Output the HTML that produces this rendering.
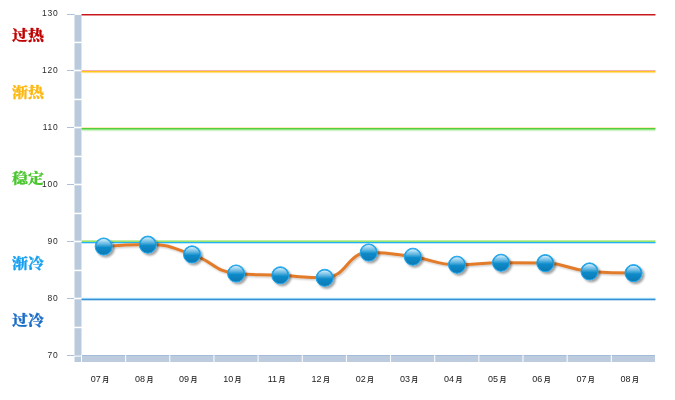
<!DOCTYPE html>
<html lang="zh-CN"><head><meta charset="utf-8"><title>chart</title>
<style>
html,body{margin:0;padding:0;background:#fff;}
body{width:675px;height:400px;overflow:hidden;position:relative;font-family:"Liberation Sans","Noto Sans CJK SC",sans-serif;}
svg{position:absolute;left:0;top:0;display:block;}
.yl{position:absolute;left:30px;width:28.6px;text-align:right;font-size:8.5px;line-height:10px;color:#2a2a2a;letter-spacing:0.8px;}
.xl{position:absolute;top:374px;width:44px;text-align:center;font-size:9px;line-height:10px;color:#222;white-space:nowrap;}
.xl span{font-size:7px;margin-left:1.4px;font-weight:500;color:#111;position:relative;top:0.3px;}
.zone{position:absolute;left:12.4px;font-family:"Liberation Serif","Noto Serif CJK SC",serif;font-weight:900;font-size:15px;line-height:16px;white-space:nowrap;transform:scale(1.06,0.9);transform-origin:0 50%;-webkit-text-stroke:0.25px currentColor;}
</style></head><body>
<svg width="675" height="400" viewBox="0 0 675 400">
<defs>
<linearGradient id="ball" x1="0" y1="0" x2="0" y2="1">
<stop offset="0" stop-color="#1b9fe4"/>
<stop offset="0.5" stop-color="#0f8dcc"/>
<stop offset="1" stop-color="#0778b2"/>
</linearGradient>
<linearGradient id="gloss" x1="0" y1="0" x2="0" y2="1">
<stop offset="0" stop-color="#fff" stop-opacity="0.85"/>
<stop offset="0.14" stop-color="#fff" stop-opacity="0.6"/>
<stop offset="0.34" stop-color="#fff" stop-opacity="0.32"/>
<stop offset="0.56" stop-color="#fff" stop-opacity="0"/>
<stop offset="1" stop-color="#fff" stop-opacity="0"/>
</linearGradient>
<filter id="sh2" x="-10%" y="-200%" width="120%" height="500%">
<feGaussianBlur in="SourceAlpha" stdDeviation="0.8"/>
<feOffset dx="1" dy="1.2"/>
<feComponentTransfer><feFuncA type="linear" slope="0.25"/></feComponentTransfer>
<feMerge><feMergeNode/><feMergeNode in="SourceGraphic"/></feMerge>
</filter>
<filter id="sh" x="-30%" y="-30%" width="170%" height="170%">
<feGaussianBlur in="SourceAlpha" stdDeviation="1"/>
<feOffset dx="1.5" dy="1.5"/>
<feComponentTransfer><feFuncA type="linear" slope="0.38"/></feComponentTransfer>
<feMerge><feMergeNode/><feMergeNode in="SourceGraphic"/></feMerge>
</filter>
</defs>
<!-- axes -->
<rect x="74.5" y="15" width="7" height="347" fill="#bacadd"/>
<rect x="81" y="355" width="574" height="1" fill="#a4bcd9"/>
<rect x="81" y="356" width="574" height="6" fill="#bccbdd"/>

<rect x="67" y="14" width="7.5" height="1" fill="#adc0d9"/>
<rect x="67" y="70" width="7.5" height="1" fill="#adc0d9"/>
<rect x="74" y="69.7" width="8" height="1.6" fill="#fff"/>
<rect x="67" y="127" width="7.5" height="1" fill="#adc0d9"/>
<rect x="74" y="126.7" width="8" height="1.6" fill="#fff"/>
<rect x="67" y="184" width="7.5" height="1" fill="#adc0d9"/>
<rect x="74" y="183.7" width="8" height="1.6" fill="#fff"/>
<rect x="67" y="241" width="7.5" height="1" fill="#adc0d9"/>
<rect x="74" y="240.7" width="8" height="1.6" fill="#fff"/>
<rect x="67" y="298" width="7.5" height="1" fill="#adc0d9"/>
<rect x="74" y="297.7" width="8" height="1.6" fill="#fff"/>
<rect x="67" y="355" width="7.5" height="1" fill="#adc0d9"/>
<rect x="74" y="355.6" width="8" height="1.0" fill="#fff"/>
<rect x="74" y="41.7" width="8" height="1.5" fill="#fff"/>
<rect x="74" y="98.7" width="8" height="1.5" fill="#fff"/>
<rect x="74" y="155.7" width="8" height="1.5" fill="#fff"/>
<rect x="74" y="212.7" width="8" height="1.5" fill="#fff"/>
<rect x="74" y="269.7" width="8" height="1.5" fill="#fff"/>
<rect x="74" y="326.7" width="8" height="1.5" fill="#fff"/>
<rect x="81.00" y="355" width="1" height="8" fill="#fff"/>
<rect x="125.15" y="355" width="1" height="8" fill="#fff"/>
<rect x="169.30" y="355" width="1" height="8" fill="#fff"/>
<rect x="213.45" y="355" width="1" height="8" fill="#fff"/>
<rect x="257.60" y="355" width="1" height="8" fill="#fff"/>
<rect x="301.75" y="355" width="1" height="8" fill="#fff"/>
<rect x="345.90" y="355" width="1" height="8" fill="#fff"/>
<rect x="390.05" y="355" width="1" height="8" fill="#fff"/>
<rect x="434.20" y="355" width="1" height="8" fill="#fff"/>
<rect x="478.35" y="355" width="1" height="8" fill="#fff"/>
<rect x="522.50" y="355" width="1" height="8" fill="#fff"/>
<rect x="566.65" y="355" width="1" height="8" fill="#fff"/>
<rect x="610.80" y="355" width="1" height="8" fill="#fff"/>
<rect x="81.5" y="14" width="574" height="1" fill="#c8181c"/>
<rect x="81.5" y="15" width="574" height="1" fill="#e68d90"/>
<rect x="81.5" y="70" width="574" height="1" fill="#f1b0b8"/>
<rect x="81.5" y="71" width="574" height="1" fill="#ffc61a"/>
<rect x="81.5" y="72" width="574" height="1" fill="#ffe083"/>
<rect x="81.5" y="73" width="574" height="1" fill="#fffaf0"/>
<rect x="81.5" y="127" width="574" height="1" fill="#ffe9b8"/>
<rect x="81.5" y="128" width="574" height="1" fill="#50d03e"/>
<rect x="81.5" y="129" width="574" height="1" fill="#8ee27e"/>
<rect x="81.5" y="130" width="574" height="1" fill="#d2f4ca"/>
<rect x="81.5" y="131" width="574" height="1" fill="#f4fcf2"/>
<rect x="81.5" y="240" width="574" height="1" fill="#bfeea2"/>
<rect x="81.5" y="241" width="574" height="1" fill="#96e26e"/>
<rect x="81.5" y="242" width="574" height="1" fill="#20b2f5"/>
<rect x="81.5" y="243" width="574" height="1" fill="#bfe6fc"/>
<rect x="81.5" y="297" width="574" height="1" fill="#f0f8fe"/>
<rect x="81.5" y="298" width="574" height="1" fill="#90d0f4"/>
<rect x="81.5" y="299" width="574" height="1" fill="#3890d4"/>
<rect x="81.5" y="300" width="574" height="1" fill="#c2dcf1"/>
<g filter="url(#sh2)"><path d="M103.7,246.5 C103.7,246.5 125.8,244.6 147.8,244.6 C169.9,244.6 169.9,247.2 192.0,254.4 C214.1,261.6 214.1,271.7 236.1,273.5 C258.2,275.3 258.2,274.2 280.3,275.3 C302.5,276.4 302.5,277.8 324.7,277.8 C346.7,277.8 346.7,252.5 368.7,252.5 C390.8,252.5 390.8,253.7 412.8,256.7 C434.9,259.8 434.9,264.7 457.0,264.7 C479.0,264.7 479.0,262.7 501.0,262.7 C523.1,262.7 523.1,262.7 545.3,263.1 C567.4,263.5 567.4,269.7 589.5,271.4 C611.5,273.1 633.5,273.1 633.5,273.1" fill="none" stroke="#e37c2a" stroke-width="3" stroke-linecap="round" stroke-linejoin="round"/></g>
<g filter="url(#sh)">
<circle cx="103.7" cy="246.5" r="8.55" fill="url(#ball)" stroke="#22a8ee" stroke-width="1"/>
<circle cx="147.8" cy="244.6" r="8.55" fill="url(#ball)" stroke="#22a8ee" stroke-width="1"/>
<circle cx="192.0" cy="254.4" r="8.55" fill="url(#ball)" stroke="#22a8ee" stroke-width="1"/>
<circle cx="236.1" cy="273.5" r="8.55" fill="url(#ball)" stroke="#22a8ee" stroke-width="1"/>
<circle cx="280.3" cy="275.3" r="8.55" fill="url(#ball)" stroke="#22a8ee" stroke-width="1"/>
<circle cx="324.7" cy="277.8" r="8.55" fill="url(#ball)" stroke="#22a8ee" stroke-width="1"/>
<circle cx="368.7" cy="252.5" r="8.55" fill="url(#ball)" stroke="#22a8ee" stroke-width="1"/>
<circle cx="412.8" cy="256.7" r="8.55" fill="url(#ball)" stroke="#22a8ee" stroke-width="1"/>
<circle cx="457.0" cy="264.7" r="8.55" fill="url(#ball)" stroke="#22a8ee" stroke-width="1"/>
<circle cx="501.0" cy="262.7" r="8.55" fill="url(#ball)" stroke="#22a8ee" stroke-width="1"/>
<circle cx="545.3" cy="263.1" r="8.55" fill="url(#ball)" stroke="#22a8ee" stroke-width="1"/>
<circle cx="589.5" cy="271.4" r="8.55" fill="url(#ball)" stroke="#22a8ee" stroke-width="1"/>
<circle cx="633.5" cy="273.1" r="8.55" fill="url(#ball)" stroke="#22a8ee" stroke-width="1"/>
</g>
<circle cx="103.7" cy="246.6" r="7.5" fill="url(#gloss)"/>
<circle cx="147.8" cy="244.7" r="7.5" fill="url(#gloss)"/>
<circle cx="192.0" cy="254.5" r="7.5" fill="url(#gloss)"/>
<circle cx="236.1" cy="273.6" r="7.5" fill="url(#gloss)"/>
<circle cx="280.3" cy="275.4" r="7.5" fill="url(#gloss)"/>
<circle cx="324.7" cy="277.9" r="7.5" fill="url(#gloss)"/>
<circle cx="368.7" cy="252.6" r="7.5" fill="url(#gloss)"/>
<circle cx="412.8" cy="256.8" r="7.5" fill="url(#gloss)"/>
<circle cx="457.0" cy="264.8" r="7.5" fill="url(#gloss)"/>
<circle cx="501.0" cy="262.8" r="7.5" fill="url(#gloss)"/>
<circle cx="545.3" cy="263.2" r="7.5" fill="url(#gloss)"/>
<circle cx="589.5" cy="271.5" r="7.5" fill="url(#gloss)"/>
<circle cx="633.5" cy="273.2" r="7.5" fill="url(#gloss)"/>
</svg>
<div class="yl" style="top:8px">130</div>
<div class="yl" style="top:65px">120</div>
<div class="yl" style="top:122px">110</div>
<div class="yl" style="top:179px">100</div>
<div class="yl" style="top:236px">90</div>
<div class="yl" style="top:293px">80</div>
<div class="yl" style="top:350px">70</div>
<div class="xl" style="left:78.0px">07<span>月</span></div>
<div class="xl" style="left:122.2px">08<span>月</span></div>
<div class="xl" style="left:166.3px">09<span>月</span></div>
<div class="xl" style="left:210.4px">10<span>月</span></div>
<div class="xl" style="left:254.6px">11<span>月</span></div>
<div class="xl" style="left:298.8px">12<span>月</span></div>
<div class="xl" style="left:342.9px">02<span>月</span></div>
<div class="xl" style="left:387.1px">03<span>月</span></div>
<div class="xl" style="left:431.2px">04<span>月</span></div>
<div class="xl" style="left:475.3px">05<span>月</span></div>
<div class="xl" style="left:519.5px">06<span>月</span></div>
<div class="xl" style="left:563.6px">07<span>月</span></div>
<div class="xl" style="left:607.8px">08<span>月</span></div>
<div class="zone" style="top:28px;color:#c00000">过热</div>
<div class="zone" style="top:84px;color:#fdb813">渐热</div>
<div class="zone" style="top:170px;color:#4cc62f">稳定</div>
<div class="zone" style="top:255px;color:#18a0f0">渐冷</div>
<div class="zone" style="top:313px;color:#1a6cc6">过冷</div>
</body></html>
